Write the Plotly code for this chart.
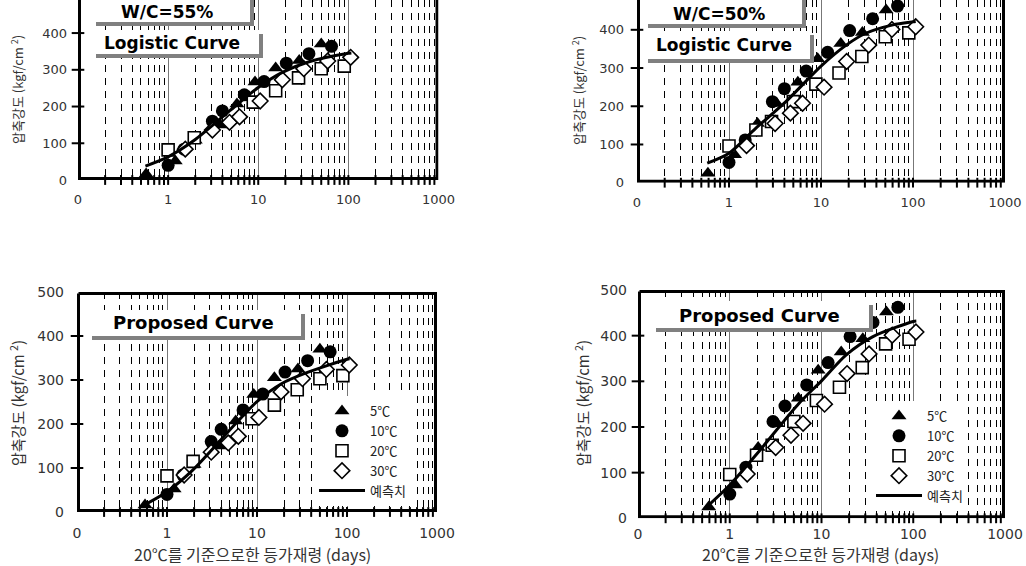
import plotly.graph_objects as go

# equivalent age at 20C (days) and compressive strength (kgf/cm2)
# W/C = 55 %
age55_5 = [0.57, 1.2, 2.0, 3.8, 5.8, 9.2, 15.6, 28.5, 50]
fc55_5 = [16, 52, 108, 150, 207, 267, 305, 325, 370]
age55_10 = [1.0, 1.5, 3.1, 4.0, 7.0, 11.6, 20.5, 36.5, 65]
fc55_10 = [40, 84, 160, 188, 232, 268, 318, 344, 364]
age55_20 = [1.0, 1.95, 8.8, 15.6, 28, 50, 90]
fc55_20 = [82, 115, 212, 243, 278, 303, 310]
age55_30 = [1.55, 3.1, 4.8, 6.2, 10.5, 18.5, 32, 59, 106]
fc55_30 = [84, 136, 157, 172, 215, 273, 303, 324, 334]

logi55_age = [0.56, 1, 1.95, 4.8, 10, 18.5, 36.6, 100, 108]
logi55_fc = [38, 63, 108, 188, 252, 293, 322, 345, 346]
prop55_age = [0.55, 1, 1.93, 5.8, 10, 18.9, 34, 100, 107]
prop55_fc = [15, 46, 95, 201, 251, 292, 315, 347, 348]

# W/C = 50 %
age50_5 = [0.59, 1.15, 2.04, 3.3, 5.6, 9.2, 16.4, 28.2, 51]
fc50_5 = [25, 73, 155, 207, 263, 324, 364, 393, 452]
age50_10 = [1.0, 1.5, 2.96, 4.0, 6.9, 11.8, 20.5, 36.4, 68]
fc50_10 = [53, 112, 212, 246, 292, 341, 398, 429, 462]
age50_20 = [1.0, 1.96, 2.9, 5.0, 8.8, 15.7, 27.8, 50, 90]
fc50_20 = [96, 138, 160, 212, 258, 287, 330, 382, 392]
age50_30 = [1.55, 3.17, 4.65, 6.3, 10.8, 19, 33, 59, 107]
fc50_30 = [97, 155, 182, 208, 250, 317, 360, 401, 408]

logi50_age = [0.58, 1, 1.95, 4.15, 10, 18.8, 30.7, 60.6, 100, 107]
logi50_fc = [51, 77, 142, 212, 305, 360, 391, 413, 421, 422]
prop50_age = [0.54, 1, 1.99, 5.7, 10, 18.6, 36.4, 100, 108]
prop50_fc = [22, 73, 142, 252, 301, 358, 398, 431, 432]

series_names = ["5℃", "10℃", "20℃", "30℃"]
curve_name = "예측치"
tick_vals = [0.1, 1, 10, 100, 1000]
tick_text = ["0", "1", "10", "100", "1000"]
ytitle = "압축강도 (kgf/cm <sup>2</sup>)"
xtitle = "20℃를 기준으로한 등가재령 (days)"

W, H = 1026, 566
KR = "Noto Sans CJK KR, DejaVu Sans, sans-serif"
NUM = "DejaVu Sans, sans-serif"
BOLD = "DejaVu Sans, sans-serif"

# panels: axis suffix, pixel box (left, right, top, bottom), y max, font sizes
panels = {
    "tl": dict(n="", px=(78, 438.5, 0, 180), ymax=490, fs=13, xs=10, ys=10),
    "tr": dict(n="2", px=(637, 1005, 0, 182.7), ymax=478, fs=13, xs=10, ys=12),
    "bl": dict(n="3", px=(77, 437, 292, 512), ymax=500, fs=14, xs=11, ys=12),
    "br": dict(n="4", px=(638, 1005, 290, 518.3), ymax=500, fs=14, xs=6, ys=10),
}

symbols = [
    dict(symbol="triangle-up", size=13, color="#000000", line=dict(width=0)),
    dict(symbol="circle", size=13, color="#000000", line=dict(width=0)),
    dict(symbol="square", size=12, color="white", line=dict(width=1.6, color="#000000")),
    dict(symbol="diamond", size=12, color="white", line=dict(width=1.6, color="#000000")),
]

data55 = [(age55_5, fc55_5), (age55_10, fc55_10), (age55_20, fc55_20), (age55_30, fc55_30)]
data50 = [(age50_5, fc50_5), (age50_10, fc50_10), (age50_20, fc50_20), (age50_30, fc50_30)]

minor_vals = [m * 10 ** e for e in (-1, 0, 1, 2) for m in range(2, 10)]

fig = go.Figure()


def add_panel(key, data, cx, cy, legend):
    p = panels[key]
    n = p["n"]
    xa, ya = "x" + n, "y" + n
    top_cut = key in ("tl", "tr")
    # frame kept half a line width inside the axis range so it is not clipped
    left, right, top, bot = p["px"]
    dx = 10 ** (1.5 * 4 / (right - left))
    dy = 1.5 * p["ymax"] / (bot - top)
    x0, x1 = 0.1 * dx, 1000 / dx
    y0, y1 = dy, p["ymax"] - dy
    if top_cut:
        fx = [x0, x0, x1, x1]
        fy = [p["ymax"] * 1.02, y0, y0, p["ymax"] * 1.02]
    else:
        fx = [x0, x0, x1, x1, x0]
        fy = [y1, y0, y0, y1, y1]
    # small tick marks on the frame
    fig.add_trace(go.Scatter(
        x=tick_vals[1:-1] + minor_vals, y=[0] * (3 + len(minor_vals)),
        mode="markers", xaxis=xa, yaxis=ya, showlegend=False,
        hoverinfo="skip", cliponaxis=False,
        marker=dict(symbol="line-ns-open", size=7, color="#000000",
                    line=dict(width=2, color="#000000")),
    ))
    yt = list(range(100, p["ymax"], 100))
    fig.add_trace(go.Scatter(
        x=[0.1] * len(yt), y=yt, mode="markers", xaxis=xa, yaxis=ya,
        showlegend=False, hoverinfo="skip", cliponaxis=False,
        marker=dict(symbol="line-ew-open", size=9, color="#000000",
                    line=dict(width=2, color="#000000")),
    ))
    for (ax, fv), name, mk in zip(data, series_names, symbols):
        fig.add_trace(go.Scatter(
            x=ax, y=fv, mode="markers", name=name, marker=mk,
            xaxis=xa, yaxis=ya,
            showlegend=legend is not None, legend=legend or "legend",
        ))
    fig.add_trace(go.Scatter(
        x=cx, y=cy, mode="lines", name=curve_name,
        line=dict(color="#000000", width=3, shape="spline", smoothing=0.8),
        xaxis=xa, yaxis=ya,
        showlegend=legend is not None, legend=legend or "legend",
    ))
    fig.add_trace(go.Scatter(
        x=fx, y=fy, mode="lines", xaxis=xa, yaxis=ya, showlegend=False,
        hoverinfo="skip", line=dict(color="#000000", width=3),
    ))


add_panel("tl", data55, logi55_age, logi55_fc, None)
add_panel("tr", data50, logi50_age, logi50_fc, None)
add_panel("bl", data55, prop55_age, prop55_fc, "legend")
add_panel("br", data50, prop50_age, prop50_fc, "legend2")

layout = dict(
    width=W, height=H, margin=dict(l=0, r=0, t=0, b=0, autoexpand=False),
    paper_bgcolor="white", plot_bgcolor="white",
    showlegend=True,
)

for key, p in panels.items():
    n = p["n"]
    left, right, top, bot = p["px"]
    layout["xaxis" + n] = dict(
        type="log", range=[-1, 3], domain=[left / W, right / W],
        anchor="y" + n, automargin=False,
        tickvals=tick_vals, ticktext=tick_text,
        tickfont=dict(family=NUM, size=p["fs"], color="#333"),
        ticks="", ticklabelstandoff=p["xs"],
        showgrid=True, gridcolor="#777", gridwidth=1,
        showline=False, zeroline=False,
        minor=dict(tickvals=minor_vals, showgrid=True, gridcolor="#000000",
                   gridwidth=1, griddash="7px,6px"),
    )
    layout["yaxis" + n] = dict(
        range=[0, p["ymax"]], domain=[1 - bot / H, 1 - top / H],
        anchor="x" + n, dtick=100, automargin=False,
        tickfont=dict(family=NUM, size=p["fs"], color="#333"),
        ticks="", ticklabelstandoff=p["ys"],
        showgrid=False, zeroline=False, showline=False,
    )

shapes = []
annotations = []


def prect(x0, y0, x1, y1, color):
    # filled rectangle given in page pixels
    shapes.append(dict(
        type="rect", xref="paper", yref="paper",
        x0=x0 / W, x1=x1 / W, y0=1 - y1 / H, y1=1 - y0 / H,
        fillcolor=color, line=dict(width=0), layer="above",
    ))


def label_box(x0, y0, x1, y1):
    # grey drop shadow offset 4px, white box on top
    prect(x0 + 4, y0 + 4, x1 + 4, y1 + 4, "#808080")
    prect(x0, y0, x1, y1, "#ffffff")


def text(x, y, s, size, family=BOLD, bold=True, angle=0, color="#000000"):
    annotations.append(dict(
        x=x / W, y=1 - y / H, xref="paper", yref="paper", text=s,
        showarrow=False, xanchor="center", yanchor="middle", textangle=angle,
        font=dict(family=family, size=size, color=color,
                  weight="bold" if bold else "normal"),
    ))


# boxes and their texts
label_box(92, -10, 250, 22)
label_box(92, 30, 259, 54)
label_box(644, -10, 802, 24)
label_box(644, 31, 810, 59)
label_box(88, 310, 301, 336)
label_box(652, 301, 869, 328)

text(167, 12, "W/C=55%", 17)
text(172, 43, "Logistic Curve", 17)
text(719, 14, "W/C=50%", 17)
text(724, 45, "Logistic Curve", 17)
text(193, 323, "Proposed Curve", 18)
text(759, 315, "Proposed Curve", 18)

# axis titles
text(17, 90, ytitle, 13, KR, False, -90, "#333")
text(578, 91, ytitle, 13, KR, False, -90, "#333")
text(17, 403, ytitle, 15, KR, False, -90, "#333")
text(582, 403, ytitle, 15, KR, False, -90, "#333")
text(252, 554, xtitle, 16, KR, False, 0, "#333")
text(820, 554, xtitle, 16, KR, False, 0, "#333")

legend_style = dict(
    xanchor="left", yanchor="top", bgcolor="white", borderwidth=0,
    font=dict(family=KR, size=13, color="#222"),
    itemwidth=46, tracegroupgap=0,
)
layout["legend"] = dict(x=314 / W, y=1 - 396 / H, **legend_style)
layout["legend2"] = dict(x=871 / W, y=1 - 401 / H, **legend_style)
layout["shapes"] = shapes
layout["annotations"] = annotations

fig.update_layout(**layout)

fig.write_html(
    "out.html",
    config={"displayModeBar": False},
    post_script="document.body.style.margin='0';document.body.style.overflow='hidden';",
)
